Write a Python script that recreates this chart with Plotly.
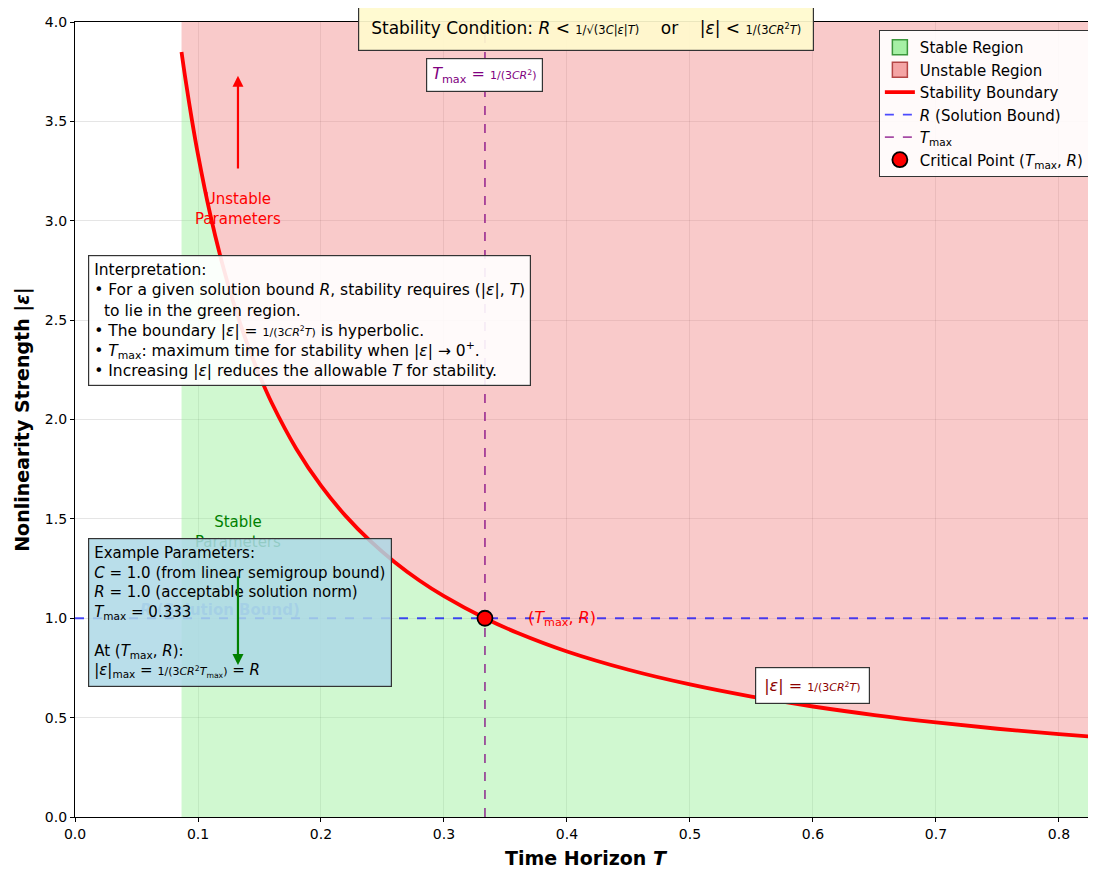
import plotly.graph_objects as go

# Boundary |eps| = 1/(3 C R^2 T) with C = R = 1
T_vals = [0.0866, 0.09, 0.095, 0.10, 0.11, 0.12, 0.13, 0.14, 0.15, 0.16, 0.18, 0.20,
          0.22, 0.24, 0.26, 0.28, 0.30, 0.3333, 0.36, 0.40, 0.45, 0.50, 0.55, 0.60,
          0.65, 0.70, 0.75, 0.80, 0.8301]
eps_vals = [3.849, 3.704, 3.509, 3.333, 3.030, 2.778, 2.564, 2.381, 2.222, 2.083, 1.852, 1.667,
            1.515, 1.389, 1.282, 1.190, 1.111, 1.000, 0.926, 0.833, 0.741, 0.667, 0.606, 0.556,
            0.513, 0.476, 0.444, 0.417, 0.402]
C_val = 1.0
R_val = 1.0
T_max = 0.3333
y_top = 4.0
x_max = 0.8301
x_ticks = [0.0, 0.1, 0.2, 0.3, 0.4, 0.5, 0.6, 0.7, 0.8]
y_ticks = [0.0, 0.5, 1.0, 1.5, 2.0, 2.5, 3.0, 3.5, 4.0]

FONT = "DejaVu Sans"
fig = go.Figure()

# stable region (below curve)
fig.add_trace(go.Scatter(x=T_vals, y=eps_vals, mode="lines", line=dict(width=0),
                         fill="tozeroy", fillcolor="rgba(144,238,144,0.42)",
                         showlegend=False, hoverinfo="skip"))
# unstable region (above curve)
fig.add_trace(go.Scatter(x=T_vals + T_vals[::-1], y=eps_vals + [y_top] * len(T_vals),
                         mode="lines", line=dict(width=0), fill="toself",
                         fillcolor="rgba(240,128,128,0.42)", showlegend=False, hoverinfo="skip"))
# legend proxies
fig.add_trace(go.Scatter(x=[None], y=[None], mode="markers",
                         marker=dict(symbol="square", size=15, color="rgba(144,238,144,0.8)",
                                     line=dict(color="#3c963c", width=1.5)),
                         name="Stable Region"))
fig.add_trace(go.Scatter(x=[None], y=[None], mode="markers",
                         marker=dict(symbol="square", size=15, color="rgba(240,128,128,0.7)",
                                     line=dict(color="#b44646", width=1.5)),
                         name="Unstable Region"))
# boundary
fig.add_trace(go.Scatter(x=T_vals, y=eps_vals, mode="lines", line=dict(color="red", width=3.8, shape="spline"),
                         name="Stability Boundary"))
# R line
fig.add_trace(go.Scatter(x=[0, x_max], y=[R_val, R_val], mode="lines",
                         line=dict(color="rgba(0,0,255,0.7)", width=1.8, dash="dash"),
                         name="<i>R</i> (Solution Bound)"))
# T_max line
fig.add_trace(go.Scatter(x=[T_max, T_max], y=[0, y_top], mode="lines",
                         line=dict(color="rgba(128,0,128,0.7)", width=1.8, dash="dash"),
                         name="<i>T</i><sub>max</sub>"))
# critical point
fig.add_trace(go.Scatter(x=[T_max], y=[R_val], mode="markers",
                         marker=dict(color="red", size=15, line=dict(color="black", width=1.8)),
                         name="Critical Point (<i>T</i><sub>max</sub>, <i>R</i>)"))

SMALL = '<span style="font-size:11px">'
ann = []
# R (Solution Bound) faded label (under the example box)
ann.append(dict(x=0.118, y=1.04, xref="x", yref="y", text="<b><i>R</i> (Solution Bound)</b>",
                showarrow=False, font=dict(size=15, color="rgba(65,105,225,0.6)", family=FONT)))
# Stable Parameters text
ann.append(dict(x=0.1325, y=1.434, xref="x", yref="y", text="Stable<br>Parameters",
                showarrow=False, font=dict(size=15, color="green", family=FONT)))
# Example box
ex_text = ("Example Parameters:<br>"
           "<i>C</i> = 1.0 (from linear semigroup bound)<br>"
           "<i>R</i> = 1.0 (acceptable solution norm)<br>"
           "<i>T</i><sub>max</sub> = 0.333<br>"
           " <br>"
           "At (<i>T</i><sub>max</sub>, <i>R</i>):<br>"
           "|<i>ε</i>|<sub>max</sub> = " + SMALL + "1/(3<i>CR</i><sup>2</sup><i>T</i><sub>max</sub>)</span> = <i>R</i>")
ann.append(dict(x=0.0106, y=1.404, xref="x", yref="y", xanchor="left", yanchor="top",
                text=ex_text, align="left", showarrow=False,
                font=dict(size=15, color="black", family=FONT),
                bgcolor="rgba(173,216,230,0.85)", bordercolor="#333", borderwidth=1.2, borderpad=5))
# green arrow
ann.append(dict(x=0.1325, y=0.765, ax=0.1325, ay=1.218, xref="x", yref="y", axref="x", ayref="y",
                text="", showarrow=True, arrowhead=2, arrowsize=1, arrowwidth=2.2, arrowcolor="green"))
# Unstable Parameters
ann.append(dict(x=0.1325, y=3.06, xref="x", yref="y", text="Unstable<br>Parameters",
                showarrow=False, font=dict(size=15, color="red", family=FONT)))
ann.append(dict(x=0.1325, y=3.73, ax=0.1325, ay=3.255, xref="x", yref="y", axref="x", ayref="y",
                text="", showarrow=True, arrowhead=2, arrowsize=1, arrowwidth=2.2, arrowcolor="red"))
# Interpretation box
int_text = ("Interpretation:<br>"
            "• For a given solution bound <i>R</i>, stability requires (|<i>ε</i>|, <i>T</i>)<br>"
            "&nbsp;&nbsp;to lie in the green region.<br>"
            "• The boundary |<i>ε</i>| = " + SMALL + "1/(3<i>CR</i><sup>2</sup><i>T</i>)</span> is hyperbolic.<br>"
            "• <i>T</i><sub>max</sub>: maximum time for stability when |<i>ε</i>| → 0<sup>+</sup>.<br>"
            "• Increasing |<i>ε</i>| reduces the allowable <i>T</i> for stability.")
ann.append(dict(x=0.0106, y=2.828, xref="x", yref="y", xanchor="left", yanchor="top",
                text=int_text, align="left", showarrow=False,
                font=dict(size=15.5, color="black", family=FONT),
                bgcolor="rgba(255,255,255,0.9)", bordercolor="#333", borderwidth=1.2, borderpad=5))
# T_max label
ann.append(dict(x=T_max, y=3.733, xref="x", yref="y",
                text="<i>T</i><sub>max</sub> = " + SMALL + "1/(3<i>CR</i><sup>2</sup>)</span>", showarrow=False,
                font=dict(size=16, color="purple", family=FONT),
                bgcolor="white", bordercolor="#333", borderwidth=1.2, borderpad=5))
# boundary label
ann.append(dict(x=0.6, y=0.664, xref="x", yref="y",
                text="|<i>ε</i>| = " + SMALL + "1/(3<i>CR</i><sup>2</sup><i>T</i>)</span>", showarrow=False,
                font=dict(size=16, color="darkred", family=FONT),
                bgcolor="white", bordercolor="#333", borderwidth=1.2, borderpad=8))
# critical point label
ann.append(dict(x=0.367, y=1.0, xref="x", yref="y", xanchor="left",
                text="(<i>T</i><sub>max</sub>, <i>R</i>)", showarrow=False,
                font=dict(size=16, color="red", family=FONT)))
# title box
ann.append(dict(x=0.5, y=0.993, xref="paper", yref="paper", xanchor="center", yanchor="middle",
                text=("Stability Condition: <i>R</i> < " + '<span style="font-size:11.5px">'
                      "1/√(3<i>C</i>|<i>ε</i>|<i>T</i>)</span>"
                      "&nbsp;&nbsp;&nbsp;&nbsp;or&nbsp;&nbsp;&nbsp;&nbsp;"
                      "|<i>ε</i>| < " + '<span style="font-size:11.5px">'
                      "1/(3<i>CR</i><sup>2</sup><i>T</i>)</span>"),
                showarrow=False, font=dict(size=17, color="black", family=FONT),
                width=450, height=40, borderpad=2,
                bgcolor="rgba(255,250,205,0.92)", bordercolor="#333", borderwidth=1.2))

fig.update_layout(
    width=1088, height=865,
    margin=dict(l=67, r=0, t=14, b=56),
    paper_bgcolor="white", plot_bgcolor="white",
    font=dict(family=FONT, size=14, color="black"),
    annotations=ann,
    legend=dict(x=0.994, y=0.99, xanchor="right", yanchor="top",
                bgcolor="rgba(255,255,255,0.9)", bordercolor="#333", borderwidth=1,
                font=dict(size=15, family=FONT), tracegroupgap=0),
    xaxis=dict(range=[0, x_max], tickvals=x_ticks, ticktext=[f"{v:.1f}" for v in x_ticks],
               showgrid=True, gridcolor="rgba(0,0,0,0.1)", zeroline=False,
               showline=True, linecolor="black", linewidth=1.2, mirror=True,
               ticks="outside", ticklen=4, tickcolor="black",
               title=dict(text="<b>Time Horizon <i>T</i></b>", font=dict(size=19), standoff=10)),
    yaxis=dict(range=[0, y_top], tickvals=y_ticks, ticktext=[f"{v:.1f}" for v in y_ticks],
               showgrid=True, gridcolor="rgba(0,0,0,0.1)", zeroline=False,
               showline=True, linecolor="black", linewidth=1.2, mirror=True,
               ticks="outside", ticklen=4, tickcolor="black",
               title=dict(text="<b>Nonlinearity Strength |<i>ε</i>|</b>", font=dict(size=19), standoff=10)),
)

fig.write_html("out.html")
